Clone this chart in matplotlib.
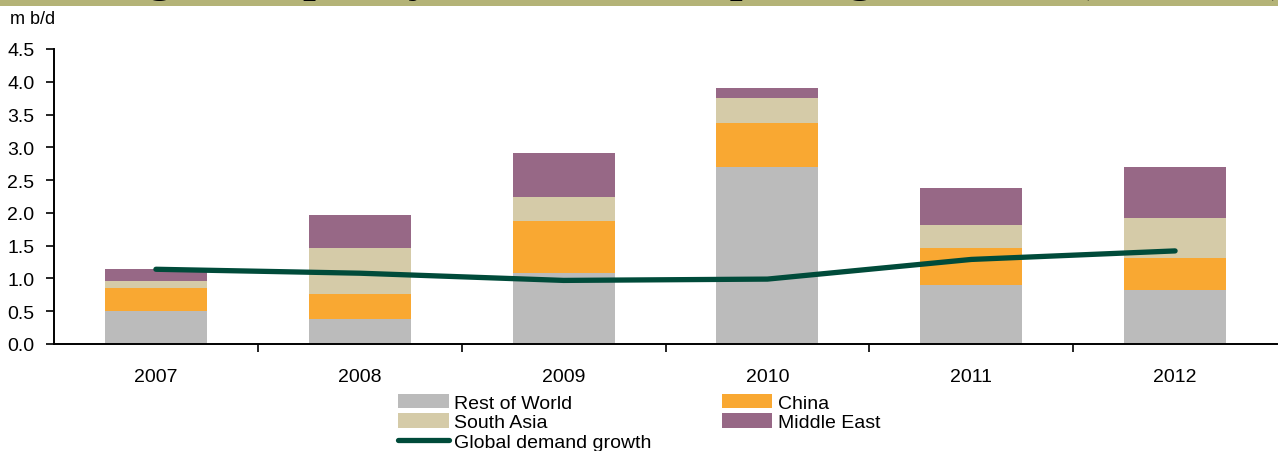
import matplotlib.pyplot as plt
import numpy as np
from matplotlib.patches import Rectangle
from matplotlib.ticker import FormatStrFormatter

# 01. Data (m b/d)
years = ['2007', '2008', '2009', '2010', '2011', '2012']
rest_of_world = [0.51, 0.38, 1.08, 2.70, 0.90, 0.82]
china = [0.34, 0.38, 0.79, 0.67, 0.56, 0.49]
south_asia = [0.11, 0.70, 0.38, 0.38, 0.35, 0.61]
middle_east = [0.18, 0.51, 0.66, 0.15, 0.57, 0.78]
global_demand_growth = [1.14, 1.08, 0.97, 0.99, 1.29, 1.42]

series = [('Rest of World', rest_of_world, '#BBBBBB'),
          ('China', china, '#F9A832'),
          ('South Asia', south_asia, '#D5CBA8'),
          ('Middle East', middle_east, '#976886')]

plt.rcParams['font.family'] = ['Liberation Sans', 'DejaVu Sans']
plt.rcParams['font.size'] = 14

W, H = 1278, 452
fig = plt.figure(figsize=(W / 100, H / 100), dpi=100)

# slide header strip, title text mostly cropped off above
fig.patches.append(Rectangle((0, 1 - 7 / H), 1, 7 / H, transform=fig.transFigure,
                             facecolor='#B4B377', edgecolor='none', zorder=0))
fig.text(5 / W, 1 + 11 / H, 'Closing on capacity additions outpacing demand (2007-12)',
         family='Liberation Serif', fontsize=39, va='baseline', ha='left')

ax = fig.add_axes([54 / W, 107 / H, (1277 - 54) / W, 295 / H])

x = np.arange(len(years))
bottom = np.zeros(len(years))
bars = {}
for name, vals, color in series:
    bars[name] = ax.bar(x, vals, 0.5, bottom=bottom, color=color, label=name, zorder=2)
    bottom += np.array(vals)

line, = ax.plot(x, global_demand_growth, color='#004B3A', lw=3.8,
                solid_capstyle='round', zorder=3, label='Global demand growth')

ax.set_xlim(-0.5, len(years) - 0.5)
ax.set_ylim(0, 4.5)
ax.set_yticks(np.arange(0, 4.51, 0.5))
ax.yaxis.set_major_formatter(FormatStrFormatter('%.1f'))
ax.tick_params(axis='y', length=6, width=1.2, pad=8, labelsize=14)

ax.set_xticks(x)
ax.set_xticklabels(years)
ax.set_xticks(np.arange(0.5, len(years) - 1, 1), minor=True)
ax.tick_params(axis='x', which='major', length=0, pad=17, labelsize=14)
ax.tick_params(axis='x', which='minor', length=6, width=1.2)

for s in ['top', 'right']:
    ax.spines[s].set_visible(False)
for s in ['left', 'bottom']:
    ax.spines[s].set_linewidth(1.4)

fig.text(10 / W, 1 - 19 / H, 'm b/d', fontsize=13, va='center', ha='left')

handles = [bars['Rest of World'], bars['South Asia'], line,
           bars['China'], bars['Middle East']]
labels = ['Rest of World', 'South Asia', 'Global demand growth', 'China', 'Middle East']
fig.legend(handles, labels, ncol=2, loc='upper left',
           bbox_to_anchor=(398 / W, 1 - 395 / H), frameon=False,
           fontsize=14, handlelength=2.6, handleheight=0.75, handletextpad=0.3,
           labelspacing=0.08, columnspacing=3.6, borderpad=0, borderaxespad=0)

fig.savefig('out.png', dpi=100)
